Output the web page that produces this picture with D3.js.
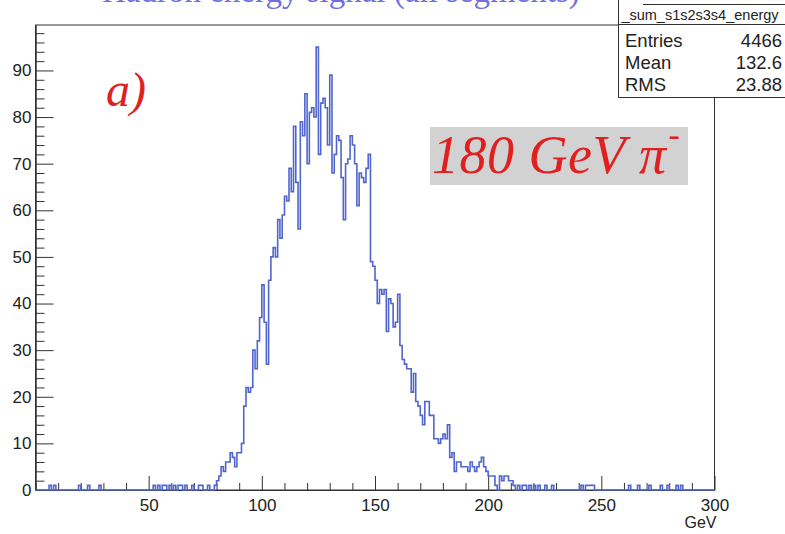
<!DOCTYPE html>
<html><head><meta charset="utf-8">
<script src="https://cdn.jsdelivr.net/npm/d3@7"></script>
<style>
html,body{margin:0;padding:0;background:#fff;}
svg{display:block;}
</style></head>
<body>
<svg id="c" width="785" height="534"></svg>
<script>
// ---- data ----
const binEdges = [0, 300];            // histogram range in GeV (300 bins of 1 GeV)
const counts = [
 0,0,0,0,0,0,1,0,1,0,
 0,0,0,0,0,0,0,0,0,1,
 0,0,0,1,0,0,0,0,1,0,
 0,0,0,0,0,0,0,0,0,0,
 0,0,0,0,0,0,0,0,0,0,
 0,0,1,0,1,0,1,1,0,1,
 0,1,0,1,1,0,1,0,0,1,
 0,0,1,1,0,0,1,0,0,1,
 2,3,5,4,6,6,8,7,5,8,
 8,10,18,22,21,22,30,26,32,37,
 44,36,27,45,50,52,50,58,54,59,
 63,62,69,64,78,66,56,79,76,85,
 70,81,82,80,95,72,83,84,82,74,
 89,68,72,76,75,67,58,70,71,76,
 74,70,61,68,67,66,69,72,49,48,
 45,40,43,42,43,34,41,40,35,36,
 42,31,28,27,26,26,21,25,19,18,
 16,14,19,19,16,16,11,11,10,11,
 12,11,14,7,8,4,6,6,5,5,
 5,4,6,5,4,5,6,7,5,4,
 3,3,3,1,0,3,2,3,3,2,
 2,1,0,1,0,1,1,0,1,0,
 1,0,1,0,0,1,0,0,1,0,
 0,0,0,0,0,0,0,0,0,0,
 0,1,0,1,1,1,1,0,0,0,
 0,0,0,0,0,0,0,0,0,0,
 0,0,1,0,0,0,1,0,0,0,
 0,1,0,0,0,0,1,0,0,1,
 0,0,0,1,0,1,0,0,0,0,
 0,0,0,0,0,0,0,0,0,0
];
const xMajorTicks = [50, 100, 150, 200, 250, 300];
const xMinorTicks = [0,10,20,30,40,60,70,80,90,110,120,130,140,160,170,180,190,210,220,230,240,260,270,280,290];
const yMajorTicks = [0,10,20,30,40,50,60,70,80,90];
const yMinorTicks = [2,4,6,8,12,14,16,18,22,24,26,28,32,34,36,38,42,44,46,48,52,54,56,58,62,64,66,68,72,74,76,78,82,84,86,88,92,94,96,98];
const yMax = 99.75;
const statsTitle = "_sum_s1s2s3s4_energy";
const statsRows = [["Entries","4466"],["Mean","132.6"],["RMS","23.88"]];
const xTitle = "GeV";
const panelLabel = "a)";
const beamLabel = "180 GeV \u03c0";
const titleText = "Hadron energy signal (all segments)";

// ---- drawing ----
const svg = d3.select("#c");
const L = 35.5, R = 714.5, T = 25, B = 490;
const x = d3.scaleLinear().domain(binEdges).range([L, R]);
const y = d3.scaleLinear().domain([0, yMax]).range([B, T]);
const font = "'Liberation Sans', Arial, Helvetica, sans-serif";
const serif = "'Liberation Serif', 'Times New Roman', serif";

// cut-off title (as in the reference, only its lower edge is inside the picture)
svg.append("text").attr("x", 102).attr("y", 2)
  .attr("font-family", serif).attr("font-size", 33).attr("fill", "#7070e0")
  .text(titleText);

// frame
svg.append("rect").attr("x", L).attr("y", T).attr("width", R - L).attr("height", B - T)
  .attr("fill", "none").attr("stroke", "#333").attr("stroke-width", 1);

// axes
const axStyle = g => {
  g.select(".domain").attr("stroke", "#333");
  g.selectAll(".tick line").attr("stroke", "#333");
  g.selectAll(".tick text").attr("fill", "#222").attr("font-family", font).attr("font-size", 17);
};
svg.append("g").attr("transform", `translate(0,${B})`)
  .call(d3.axisBottom(x).tickValues(xMajorTicks).tickSize(-14).tickSizeOuter(0).tickPadding(9).tickFormat(d3.format("d")))
  .call(axStyle);
svg.append("g").attr("transform", `translate(0,${B})`)
  .call(d3.axisBottom(x).tickValues(xMinorTicks).tickSize(-7).tickSizeOuter(0).tickFormat(""))
  .call(axStyle);
svg.append("g").attr("transform", `translate(${L},0)`)
  .call(d3.axisLeft(y).tickValues(yMajorTicks).tickSize(-18).tickSizeOuter(0).tickPadding(4).tickFormat(d3.format("d")))
  .call(axStyle);
svg.append("g").attr("transform", `translate(${L},0)`)
  .call(d3.axisLeft(y).tickValues(yMinorTicks).tickSize(-9).tickSizeOuter(0).tickFormat(""))
  .call(axStyle);

// histogram outline
const nb = counts.length;
const bw = (binEdges[1] - binEdges[0]) / nb;
const pts = [[x(binEdges[0]), y(0)]];
counts.forEach((c, i) => {
  const x0 = x(binEdges[0] + i * bw), x1 = x(binEdges[0] + (i + 1) * bw);
  pts.push([x0, y(c)], [x1, y(c)]);
});
pts.push([x(binEdges[1]), y(0)]);
svg.append("path").attr("d", d3.line()(pts))
  .attr("fill", "none").attr("stroke", "#5166cc").attr("stroke-width", 1.6)
  .attr("stroke-linejoin", "miter");

// x title
svg.append("text").attr("x", R + 2).attr("y", 528).attr("text-anchor", "end")
  .attr("font-family", font).attr("font-size", 16).attr("fill", "#222").text(xTitle);

// stats box
const sb = svg.append("g");
sb.append("rect").attr("x", 618.5).attr("y", -5).attr("width", 175).attr("height", 102.5)
  .attr("fill", "#fff").attr("stroke", "#333");
sb.append("line").attr("x1", 643).attr("x2", 785).attr("y1", 4.5).attr("y2", 4.5).attr("stroke", "#333");
sb.append("line").attr("x1", 618).attr("x2", 785).attr("y1", 24.5).attr("y2", 24.5).attr("stroke", "#333");
sb.append("text").attr("x", 700).attr("y", 20).attr("text-anchor", "middle")
  .attr("font-family", font).attr("font-size", 14.5).attr("fill", "#222").text(statsTitle);
statsRows.forEach((r, i) => {
  const yy = 46.5 + i * 22;
  sb.append("text").attr("x", 625).attr("y", yy).attr("font-family", font).attr("font-size", 18.5).attr("fill", "#222").text(r[0]);
  sb.append("text").attr("x", 782).attr("y", yy).attr("text-anchor", "end").attr("font-family", font).attr("font-size", 18.5).attr("fill", "#222").text(r[1]);
});

// panel label
svg.append("text").attr("x", 106).attr("y", 106).attr("font-family", serif).attr("font-style", "italic")
  .attr("font-size", 48).attr("fill", "#e02020").text(panelLabel);

// beam label with grey box
svg.append("rect").attr("x", 430).attr("y", 127).attr("width", 258).attr("height", 58).attr("fill", "#d2d2d2");
const bt = svg.append("text").attr("x", 432).attr("y", 173).attr("font-family", serif).attr("font-style", "italic")
  .attr("font-size", 54).attr("letter-spacing", 0.5).attr("fill", "#e02020");
bt.append("tspan").text(beamLabel);
bt.append("tspan").attr("dx", 2).attr("dy", -27).attr("font-size", 34).attr("font-style", "normal").text("-");
</script>
</body></html>
